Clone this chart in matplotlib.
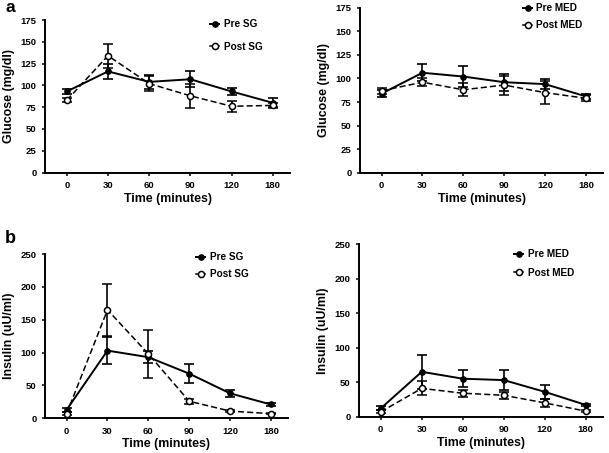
import matplotlib
matplotlib.use("Agg")
import matplotlib.pyplot as plt
from matplotlib.lines import Line2D
import numpy as np

plt.rcParams['font.family'] = ['Liberation Sans', 'DejaVu Sans']
plt.rcParams['font.weight'] = 'bold'

time_labels = ["0", "30", "60", "90", "120", "180"]

glu_pre_sg = [93, 116, 104, 107, 93, 80]
glu_pre_sg_err = [3, 9, 8, 9, 4, 5]
glu_post_sg = [83, 134, 102, 88, 76, 77]
glu_post_sg_err = [2, 14, 9, 14, 6, 3]

glu_pre_med = [84, 106, 102, 96, 94, 81]
glu_pre_med_err = [4, 9, 11, 9, 5, 3]
glu_post_med = [87, 96, 88, 93, 85, 79]
glu_post_med_err = [3, 4, 7, 10, 12, 3]

ins_pre_sg = [13, 103, 93, 68, 38, 21]
ins_pre_sg_err = [3, 20, 9, 14, 5, 3]
ins_post_sg = [7, 165, 98, 26, 11, 7]
ins_post_sg_err = [2, 40, 36, 4, 2, 1]

ins_pre_med = [12, 65, 55, 53, 36, 17]
ins_pre_med_err = [3, 25, 12, 15, 10, 2]
ins_post_med = [7, 41, 34, 31, 20, 8]
ins_post_med_err = [2, 10, 5, 5, 6, 1]

W, H = 609, 453
fig = plt.figure(figsize=(W / 100, H / 100), dpi=100)


def px_axes(x0, x1, ytop, ybot):
    return fig.add_axes([x0 / W, 1 - ybot / H, (x1 - x0) / W, (ybot - ytop) / H])


PRE_STYLE = dict(color='black', lw=1.4, ls='-', marker='o', ms=3.8, mfc='black', mec='black')
POST_STYLE = dict(color='black', lw=1.1, ls=(0, (4, 2)), marker='o', ms=4.4,
                  mfc='white', mec='black', mew=1.1)


def panel(ax, pre, pre_err, post, post_err, names, ylabel, ymax, ystep, leg_xy, lspace):
    x = np.arange(len(time_labels))
    ax.errorbar(x, pre, yerr=pre_err, capsize=3.5, capthick=1.2,
                elinewidth=1.2, zorder=3, **PRE_STYLE)
    ax.errorbar(x, post, yerr=post_err, capsize=3.5, capthick=1.2,
                elinewidth=1.2, zorder=4, **POST_STYLE)
    ax.set_xlim(-0.53, 5.42)
    ax.set_ylim(0, ymax)
    ax.set_xticks(x)
    ax.set_xticklabels(time_labels)
    ax.set_yticks(np.arange(0, ymax + 1, ystep))
    for s in ['top', 'right']:
        ax.spines[s].set_visible(False)
    for s in ['left', 'bottom']:
        ax.spines[s].set_linewidth(1.4)
    ax.spines['left'].set_bounds(0, ymax)
    ax.tick_params(direction='out', length=2.5, width=1.1, labelsize=6.8, pad=3.5)
    for t in ax.get_xticklabels() + ax.get_yticklabels():
        t.set_fontweight('bold')
    ax.set_xlabel("Time (minutes)", fontsize=8.9, fontweight='bold', labelpad=2)
    ax.set_ylabel(ylabel, fontsize=8.9, fontweight='bold', labelpad=4)
    handles = [Line2D([], [], **dict(PRE_STYLE, ls='-')),
               Line2D([], [], **dict(POST_STYLE, ls='-'))]
    ax.legend(handles, names, loc='upper left',
              bbox_to_anchor=(leg_xy[0] / W, 1 - leg_xy[1] / H),
              bbox_transform=fig.transFigure, frameon=False,
              handlelength=0.9, handletextpad=0.45, labelspacing=lspace,
              borderpad=0, borderaxespad=0, prop={'size': 7.2, 'weight': 'bold'})


ax1 = px_axes(45, 290, 20, 172.5)
panel(ax1, glu_pre_sg, glu_pre_sg_err, glu_post_sg, glu_post_sg_err,
      ["Pre SG", "Post SG"], "Glucose (mg/dl)", 175, 25, (210, 19), 1.25)

ax2 = px_axes(360, 603, 7.5, 173)
panel(ax2, glu_pre_med, glu_pre_med_err, glu_post_med, glu_post_med_err,
      ["Pre MED", "Post MED"], "Glucose (mg/dl)", 175, 25, (523, 3), 0.75)

ax3 = px_axes(45, 288, 254, 418.3)
panel(ax3, ins_pre_sg, ins_pre_sg_err, ins_post_sg, ins_post_sg_err,
      ["Pre SG", "Post SG"], "Insulin (uU/ml)", 250, 50, (196, 252), 0.7)

ax4 = px_axes(359, 603, 244, 416.7)
panel(ax4, ins_pre_med, ins_pre_med_err, ins_post_med, ins_post_med_err,
      ["Pre MED", "Post MED"], "Insulin (uU/ml)", 250, 50, (514, 249), 0.85)

fig.text(5 / W, 1 - 0 / H, "a", fontsize=12.5, fontweight='bold', va='top', ha='left')
fig.text(5 / W, 1 - 230 / H, "b", fontsize=13, fontweight='bold', va='top', ha='left')

fig.savefig("out.png", dpi=100)
